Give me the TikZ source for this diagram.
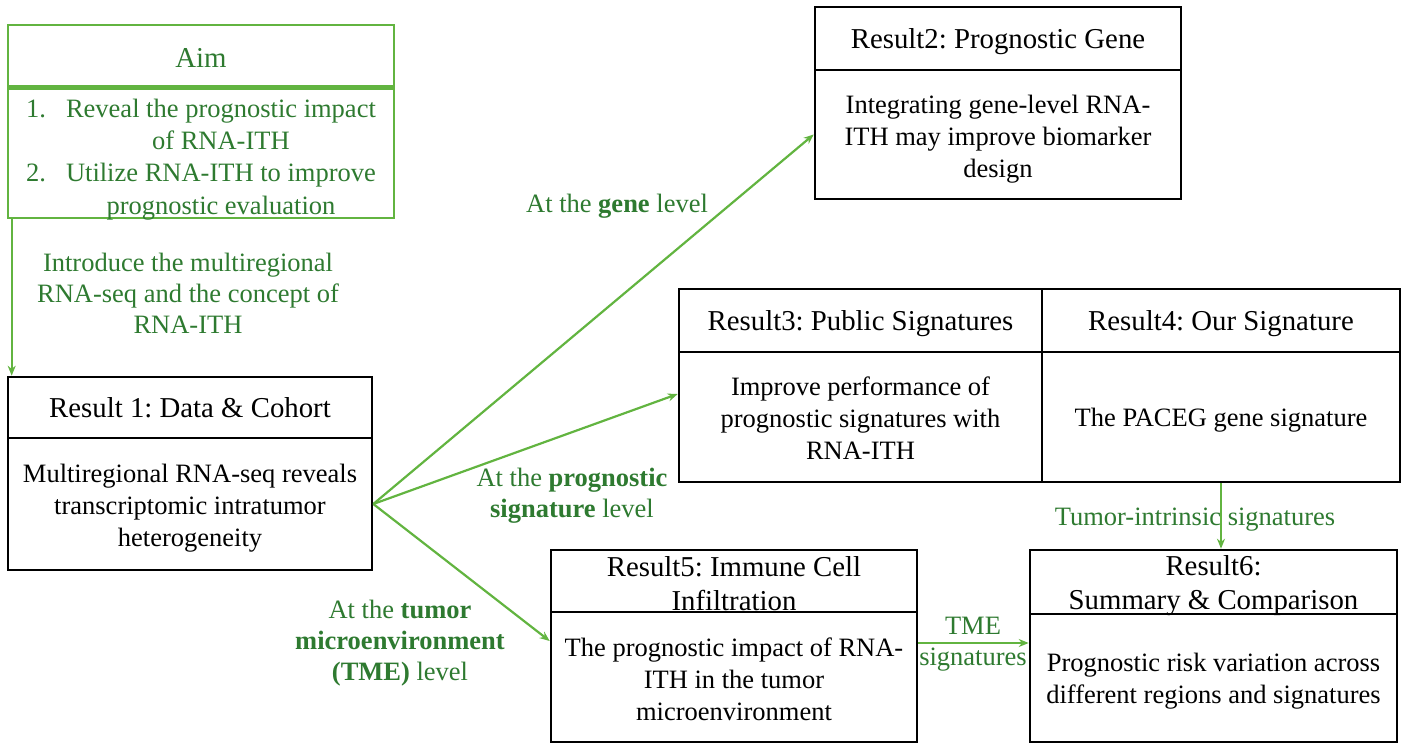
\documentclass[tikz,border=0pt]{standalone}
\usepackage{fontspec}
\setmainfont{Liberation Serif}
\usetikzlibrary{arrows.meta,calc}
\definecolor{lg}{RGB}{98,180,64}
\definecolor{tg}{RGB}{46,122,48}
\frenchspacing
\begin{document}
\begin{tikzpicture}[x=1pt,y=-1pt,
  box/.style={draw=black, line width=2.6pt, inner sep=0pt},
  gbox/.style={draw=lg, line width=2.6pt, inner sep=0pt},
  txt/.style={inner sep=0pt, align=center, font=\fontsize{26.5}{32}\selectfont},
  ttl/.style={inner sep=0pt, align=center, font=\fontsize{28.8}{34}\selectfont},
  lab/.style={text=tg, align=center, inner sep=0pt, font=\fontsize{26.5}{31}\selectfont},
  arr/.style={draw=lg, line width=2.2pt, -{Stealth[length=10pt,width=8pt]}}]
\useasboundingbox (0,0) rectangle (1409,744);

% Aim
\node[gbox, minimum width=386, minimum height=61.5] (aimh) at (201,55.75) {};
\node[gbox, minimum width=386, minimum height=129.5] (aimb) at (201,153.25) {};
\node[ttl, text=tg] (aimht) at ($(aimh)+(0,2)$) {Aim};
\node[txt, text=tg] (aimbt) at ($(aimb)+(0,6)$) {%
  \def\arraystretch{1.0}%
  \begin{tabular}{@{}r@{\hspace{20pt}}c@{}}
  1. & Reveal the prognostic impact\\[0.3pt]
     & of RNA-ITH\\[0.3pt]
  2. & Utilize RNA-ITH to improve\\[0.3pt]
     & prognostic evaluation
  \end{tabular}};

% Result 1
\node[box, minimum width=364, minimum height=61] (r1h) at (190,407.5) {};
\node[box, minimum width=364, minimum height=132] (r1b) at (190,504) {};
\node[ttl] (r1ht) at (r1h) {Result 1: Data \& Cohort};
\node[txt] (r1bt) at ($(r1b)+(0,4)$) {Multiregional RNA-seq reveals\\transcriptomic intratumor\\heterogeneity};

% Result 2
\node[box, minimum width=366, minimum height=63] (r2h) at (998,38.5) {};
\node[box, minimum width=366, minimum height=129] (r2b) at (998,134.5) {};
\node[ttl] (r2ht) at ($(r2h)+(0,3)$) {Result2: Prognostic Gene};
\node[txt] (r2bt) at ($(r2b)+(0,5)$) {Integrating gene-level RNA-\\ITH may improve biomarker\\design};

% Result 3 and 4
\node[box, minimum width=363, minimum height=63] (r3h) at (860.5,320.5) {};
\node[box, minimum width=363, minimum height=130] (r3b) at (860.5,417) {};
\node[box, minimum width=358, minimum height=63] (r4h) at (1221,320.5) {};
\node[box, minimum width=358, minimum height=130] (r4b) at (1221,417) {};
\node[ttl] (r3ht) at ($(r3h)+(0,3)$) {Result3: Public Signatures};
\node[txt] (r3bt) at ($(r3b)+(0,1)$) {Improve performance of\\prognostic signatures with\\RNA-ITH};
\node[ttl] (r4ht) at ($(r4h)+(0,3)$) {Result4: Our Signature};
\node[txt] (r4bt) at ($(r4b)+(0,3)$) {The PACEG gene signature};

% Result 5
\node[box, minimum width=366, minimum height=62] (r5h) at (734,581) {};
\node[box, minimum width=366, minimum height=130] (r5b) at (734,677) {};
\node[ttl] (r5ht) at ($(r5h)+(0,3)$) {Result5: Immune Cell\\Infiltration};
\node[txt] (r5bt) at ($(r5b)+(0,2.5)$) {The prognostic impact of RNA-\\ITH in the tumor\\microenvironment};

% Result 6
\node[box, minimum width=367, minimum height=64] (r6h) at (1213.5,582) {};
\node[box, minimum width=367, minimum height=128] (r6b) at (1213.5,678) {};
\node[ttl] (r6ht) at ($(r6h)+(0,4)$) {Result6:\\Summary \& Comparison};
\node[txt] (r6bt) at ($(r6b)+(0,3)$) {Prognostic risk variation across\\different regions and signatures};

% Labels
\node[lab] (li) at (188,293) {Introduce the multiregional\\RNA-seq and the concept of\\RNA-ITH};
\node[lab] (lgene) at (617,206) {At the \textbf{gene} level};
\node[lab] (lprog) at (572,496) {At the \textbf{prognostic}\\\textbf{signature} level};
\node[lab] (ltum) at (400,643) {At the \textbf{tumor}\\\textbf{microenvironment}\\\textbf{(TME)} level};
\node[lab] (lti) at (1195,520) {Tumor-intrinsic signatures};
\node[lab] (ltme) at (973,644) {TME\\signatures};

% Connectors
\draw[arr] ($(aimb.south west)+(5,0)$) -- ($(r1h.north west)+(5,0)$);
\draw[arr] (r1b.east) -- (r2b.west);
\draw[arr] (r1b.east) -- ($(r3b.west)+(0,-23)$);
\draw[arr] (r1b.east) -- ($(r5b.west)+(0,-36)$);
\draw[arr] ($(r5b.east)+(0,-34)$) -- ($(r6b.west)+(0,-35)$);
\draw[arr] (r4b.south) -- (r4b.south |- r6h.north);
\end{tikzpicture}
\end{document}
